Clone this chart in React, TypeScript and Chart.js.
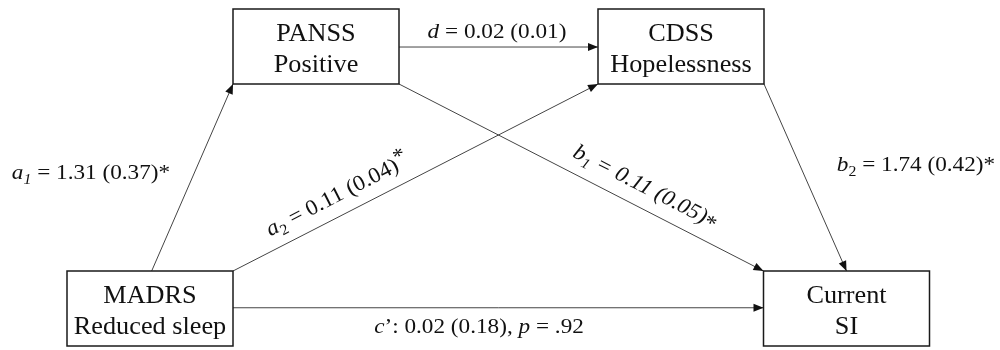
import React, { useEffect, useRef } from "react";
import { Chart, registerables } from "chart.js";

Chart.register(...registerables);

// ---- Nodes (diagram units: x 0..1000, y 0..350 top-down) ----
const nodeLine1 = ["PANSS", "CDSS", "MADRS", "Current"];
const nodeLine2 = ["Positive", "Hopelessness", "Reduced sleep", "SI"];
const nodeCX = [316, 681, 150, 846.5];
const nodeCY = [46.5, 46.5, 308.5, 308.5];
const NODE_W = 166;
const NODE_H = 75;

// ---- Edges: from node / anchor fraction -> to node / anchor fraction ----
const edgeFrom = [2, 2, 0, 1, 0, 2];
const edgeFromFX = [0.51, 1, 1, 1, 1, 1];
const edgeFromFY = [0, 0, 1, 1, 0.507, 0.49];
const edgeTo = [0, 1, 3, 3, 1, 3];
const edgeToFX = [0, 0, 0, 0.5, 0, 0];
const edgeToFY = [1, 1, 0, 0, 0.507, 0.49];

// ---- Edge labels: runs of [text, style] ----
// styles: n normal, i italic, isub italic subscript, sub subscript, sup superscript, low lowered
const edgeLabelRuns: [string, string][][] = [
  [["a", "i"], ["1", "isub"], [" = 1.31 (0.37)*", "n"]],
  [["a", "i"], ["2", "sub"], [" = 0.11 (0.04)", "n"], ["*", "sup"]],
  [["b", "i"], ["1", "isub"], [" = 0.11 (0.05)", "i"], ["*", "low"]],
  [["b", "i"], ["2", "sub"], [" = 1.74 (0.42)*", "n"]],
  [["d", "i"], [" = 0.02 (0.01)", "n"]],
  [["c", "i"], ["\u2019: 0.02 (0.18), ", "n"], ["p", "i"], [" = .92", "n"]],
];
const labelX = [91, 337, 646, 916, 497, 479];
const labelY = [172, 194, 186, 164, 31, 326];
const labelAlongEdge = [false, true, true, false, false, false];

const FONT = "'Liberation Serif', 'DejaVu Serif', serif";
const NODE_FS = 25;
const LABEL_FS = 22;
const SX_NODE = 1.05;
const SX_LABEL = 1.055;

function anchor(node: number, fx: number, fy: number) {
  return {
    x: nodeCX[node] - NODE_W / 2 + fx * NODE_W,
    y: nodeCY[node] - NODE_H / 2 + fy * NODE_H,
  };
}

function runFont(style: string, fs: number) {
  const small = style === "sub" || style === "isub";
  const size = small ? Math.round(fs * 0.68) : Math.round(fs);
  const italic = style === "i" || style === "isub";
  return `${italic ? "italic " : ""}${size}px ${FONT}`;
}

function runDy(style: string, fs: number) {
  if (style === "sub" || style === "isub") return fs * 0.22;
  if (style === "sup") return -fs * 0.28;
  if (style === "low") return fs * 0.14;
  return 0;
}

const diagramPlugin = {
  id: "pathDiagram",
  afterDatasetsDraw(chart: any) {
    const ctx: CanvasRenderingContext2D = chart.ctx;
    const xs = chart.scales.x;
    const ys = chart.scales.y;
    const px = (v: number) => xs.getPixelForValue(v);
    const py = (v: number) => ys.getPixelForValue(v);

    ctx.save();
    // arrowheads
    ctx.fillStyle = "#111";
    for (let i = 0; i < edgeFrom.length; i++) {
      const a = anchor(edgeFrom[i], edgeFromFX[i], edgeFromFY[i]);
      const b = anchor(edgeTo[i], edgeToFX[i], edgeToFY[i]);
      const x1 = px(a.x), y1 = py(a.y), x2 = px(b.x), y2 = py(b.y);
      const ang = Math.atan2(y2 - y1, x2 - x1);
      const L = 10, W = 4;
      ctx.beginPath();
      ctx.moveTo(x2, y2);
      ctx.lineTo(x2 - L * Math.cos(ang) + W * Math.sin(ang), y2 - L * Math.sin(ang) - W * Math.cos(ang));
      ctx.lineTo(x2 - L * Math.cos(ang) - W * Math.sin(ang), y2 - L * Math.sin(ang) + W * Math.cos(ang));
      ctx.closePath();
      ctx.fill();
    }

    // boxes
    ctx.strokeStyle = "#1a1a1a";
    ctx.lineWidth = 1.5;
    ctx.fillStyle = "#111";
    for (let i = 0; i < nodeCX.length; i++) {
      const l = px(nodeCX[i] - NODE_W / 2);
      const r = px(nodeCX[i] + NODE_W / 2);
      const t = py(nodeCY[i] - NODE_H / 2);
      const bt = py(nodeCY[i] + NODE_H / 2);
      ctx.strokeRect(l, t, r - l, bt - t);
      const cx = px(nodeCX[i]);
      const cy = py(nodeCY[i]);
      ctx.font = `${NODE_FS}px ${FONT}`;
      ctx.textAlign = "center";
      ctx.textBaseline = "alphabetic";
      [[nodeLine1[i], -5.5], [nodeLine2[i], 25]].forEach(([txt, dy]: any) => {
        ctx.save();
        ctx.translate(cx, cy + dy);
        ctx.scale(SX_NODE, 1);
        ctx.fillText(txt, 0, 0);
        ctx.restore();
      });
    }

    // labels
    ctx.textAlign = "left";
    ctx.textBaseline = "alphabetic";
    for (let i = 0; i < edgeLabelRuns.length; i++) {
      const runs = edgeLabelRuns[i];
      let total = 0;
      const widths = runs.map(([t, s]) => {
        ctx.font = runFont(s, LABEL_FS);
        const w = ctx.measureText(t).width;
        total += w;
        return w;
      });
      let rot = 0;
      if (labelAlongEdge[i]) {
        const a = anchor(edgeFrom[i], edgeFromFX[i], edgeFromFY[i]);
        const b = anchor(edgeTo[i], edgeToFX[i], edgeToFY[i]);
        rot = Math.atan2(py(b.y) - py(a.y), px(b.x) - px(a.x));
        if (rot > Math.PI / 2) rot -= Math.PI;
        if (rot < -Math.PI / 2) rot += Math.PI;
      }
      ctx.save();
      ctx.translate(px(labelX[i]), py(labelY[i]));
      ctx.rotate(rot);
      ctx.scale(SX_LABEL, 1);
      let x = -total / 2;
      const base = LABEL_FS * 0.34;
      runs.forEach(([t, s], k) => {
        ctx.font = runFont(s, LABEL_FS);
        ctx.fillText(t, x, base + runDy(s, LABEL_FS));
        x += widths[k];
      });
      ctx.restore();
    }
    ctx.restore();
  },
};

export default function App() {
  const ref = useRef<HTMLCanvasElement | null>(null);
  useEffect(() => {
    if (!ref.current) return;
    const datasets = edgeFrom.map((f, i) => {
      const a = anchor(f, edgeFromFX[i], edgeFromFY[i]);
      const b = anchor(edgeTo[i], edgeToFX[i], edgeToFY[i]);
      return {
        data: [a, b],
        showLine: true,
        borderColor: "#444",
        borderWidth: 1,
        pointRadius: 0,
        clip: false as any,
      };
    });
    const chart = new Chart(ref.current, {
      type: "scatter",
      data: { datasets },
      options: {
        animation: false,
        responsive: true,
        maintainAspectRatio: false,
        layout: { padding: 0 },
        plugins: { legend: { display: false }, tooltip: { enabled: false } },
        scales: {
          x: { type: "linear", min: 0, max: 1000, display: false },
          y: { type: "linear", min: 0, max: 350, reverse: true, display: false },
        },
      },
      plugins: [diagramPlugin],
    });
    let alive = true;
    if ((document as any).fonts) {
      Promise.all([
        document.fonts.load(`25px 'Liberation Serif'`),
        document.fonts.load(`italic 25px 'Liberation Serif'`),
      ]).then(() => { if (alive) chart.draw(); }).catch(() => {});
    }
    return () => { alive = false; chart.destroy(); };
  }, []);
  return (
    <div style={{ position: "fixed", left: 0, top: 0, width: 1000, height: 350, background: "#fff", fontFamily: "'Liberation Serif', serif" }}>
      <canvas ref={ref} />
    </div>
  );
}
